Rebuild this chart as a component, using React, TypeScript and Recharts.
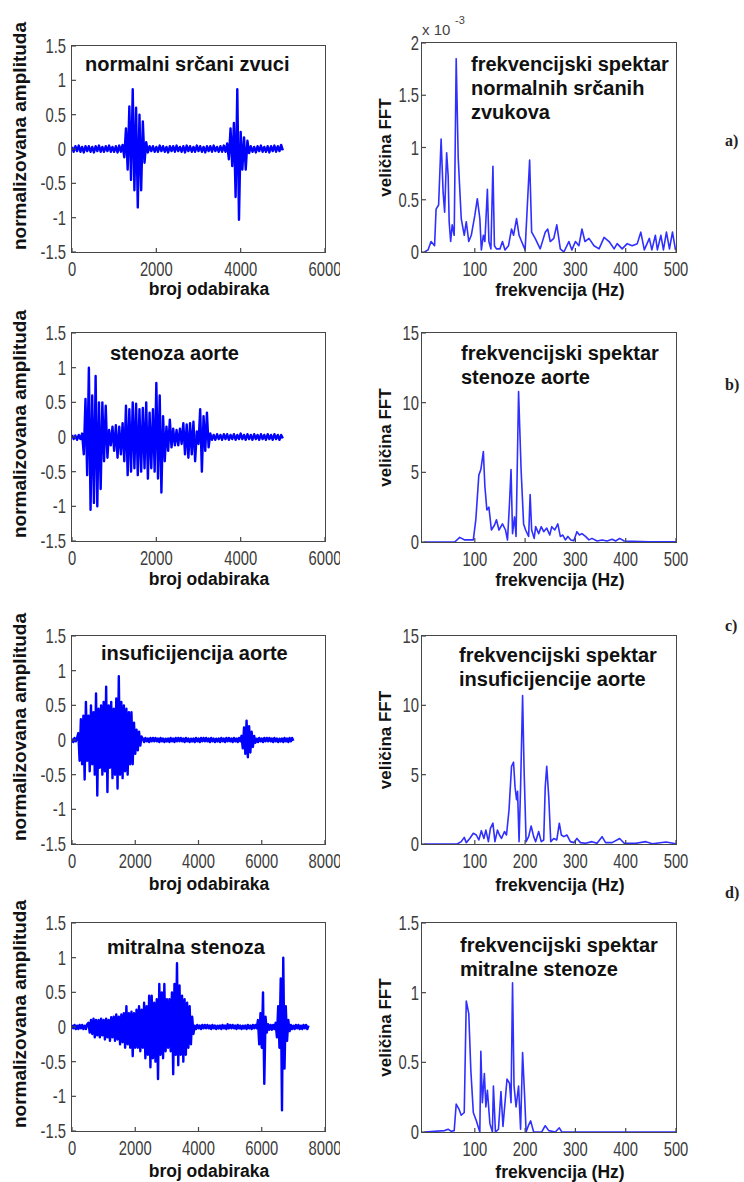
import { Line, LineChart, XAxis, YAxis } from "recharts";

const FONT = "'Liberation Sans', Arial, Helvetica, sans-serif";
const SAMPLE_STEP = 40;

// time signals, one value every SAMPLE_STEP samples
const normalSignal = [
  0.03, -0.04, 0.04, -0.03, 0.05, -0.04, 0.03, -0.05, 0.04, -0.03,
  0.04, -0.04, 0.03, -0.05, 0.04, -0.03, 0.05, -0.04, 0.03, -0.04,
  0.04, -0.03, 0.05, -0.04, 0.03, -0.04, 0.04, -0.05, 0.05, -0.04,
  0.06, -0.12, 0.3, -0.3, 0.62, -0.45, 0.87, -0.6, 0.6, -0.85,
  0.5, -0.6, 0.4, -0.2, 0.1, -0.05, 0.04, -0.03, 0.04, -0.04,
  0.03, -0.04, 0.05, -0.03, 0.04, -0.04, 0.03, -0.05, 0.04, -0.03,
  0.04, -0.04, 0.05, -0.03, 0.03, -0.04, 0.04, -0.05, 0.05, -0.03,
  0.04, -0.04, 0.03, -0.04, 0.05, -0.03, 0.04, -0.04, 0.03, -0.05,
  0.04, -0.03, 0.04, -0.04, 0.05, -0.03, 0.03, -0.04, 0.04, -0.04,
  0.05, -0.04, 0.08, -0.15, 0.3, -0.25, 0.38, -0.7, 0.87, -1.03,
  0.25, -0.3, 0.17, -0.3, 0.12, -0.06, 0.04, -0.04, 0.03, -0.05,
  0.04, -0.03, 0.05, -0.04, 0.03, -0.04, 0.04, -0.05, 0.04, -0.03,
  0.05, -0.04, 0.04, -0.03, 0.06, -0.02,
];

const stenosisSignal = [
  0.03, -0.03, 0.02, -0.04, 0.03, -0.03, 0.05, -0.25, 0.55, -0.55,
  1.0, -1.05, 0.6, -0.95, 0.88, -1.0, 0.5, -0.75, 0.5, -0.35,
  0.45, -0.3, 0.1, -0.12, 0.15, -0.2, 0.17, -0.3, 0.15, -0.25,
  0.2, -0.35, 0.45, -0.55, 0.4, -0.5, 0.5, -0.45, 0.48, -0.55,
  0.4, -0.5, 0.42, -0.45, 0.5, -0.6, 0.35, -0.45, 0.4, -0.5,
  0.78, -0.6, 0.6, -0.8, 0.3, -0.35, 0.15, -0.2, 0.25, -0.15,
  0.12, -0.12, 0.1, -0.12, 0.12, -0.1, 0.2, -0.25, 0.18, -0.3,
  0.2, -0.25, 0.22, -0.35, 0.08, -0.1, 0.4, -0.5, 0.3, -0.2,
  0.35, -0.15, 0.05, -0.04, 0.03, -0.04, 0.04, -0.03, 0.03, -0.04,
  0.04, -0.03, 0.04, -0.04, 0.03, -0.03, 0.04, -0.04, 0.03, -0.03,
  0.05, -0.03, 0.03, -0.04, 0.04, -0.03, 0.03, -0.04, 0.04, -0.03,
  0.03, -0.04, 0.04, -0.03, 0.03, -0.04, 0.04, -0.03, 0.03, -0.04,
  0.04, -0.03, 0.03, -0.04, 0.03, -0.02,
];

const insufficiencySignal = [
  0.02, -0.03, 0.03, -0.02, 0.03,
  0.1, -0.3, 0.3, -0.35, 0.35, -0.57, 0.55, -0.3, 0.35, -0.45,
  0.5, -0.35, 0.4, -0.5, 0.67, -0.8, 0.45, -0.4, 0.5, -0.5,
  0.55, -0.45, 0.77, -0.75, 0.5, -0.4, 0.55, -0.55, 0.45, -0.5,
  0.6, -0.7, 0.92, -0.5, 0.55, -0.55, 0.5, -0.45, 0.45, -0.5,
  0.4, -0.35, 0.4, -0.35, 0.25, -0.2, 0.15, -0.15, 0.12, -0.08,
  0.05,
  0.02, -0.03, 0.03, -0.02, 0.02, -0.03, 0.03, -0.02, 0.03, -0.02,
  0.03, -0.02, 0.02, -0.03, 0.03, -0.02, 0.02, -0.03, 0.02, -0.02,
  0.02, -0.03, 0.03, -0.02, 0.02, -0.03, 0.03, -0.02, 0.03, -0.02,
  0.03, -0.02, 0.02, -0.03, 0.03, -0.02, 0.02, -0.03, 0.02, -0.02,
  0.02, -0.03, 0.03, -0.02, 0.02, -0.03, 0.03, -0.02, 0.03, -0.02,
  0.03, -0.02, 0.02, -0.03, 0.03, -0.02, 0.02, -0.03, 0.02, -0.02,
  0.02, -0.03, 0.03, -0.02, 0.02, -0.03, 0.03, -0.02, 0.03, -0.02,
  0.02, -0.03, 0.03, -0.02, 0.02, -0.03, 0.03, -0.02,
  0.06, -0.12, 0.18, -0.2, 0.28, -0.25, 0.2, -0.18, 0.12, -0.1, 0.06, -0.04,
  0.02, -0.03, 0.03, -0.02, 0.02, -0.03, 0.03, -0.02, 0.03, -0.02,
  0.03, -0.02, 0.02, -0.03, 0.03, -0.02, 0.02, -0.03, 0.02, -0.02,
  0.02, -0.03, 0.03, -0.02, 0.02, -0.03, 0.03, -0.02, 0.03, -0.01,
];

const mitralSignal = [
  0.03, -0.02, 0.03, -0.03, 0.02, -0.03, 0.03, -0.02, 0.03, -0.03, 0.02, -0.03, 0.04,
  0.06, -0.08, 0.1, -0.1, 0.12, -0.15, 0.1, -0.12, 0.1, -0.15,
  0.12, -0.12, 0.1, -0.18, 0.12, -0.15, 0.1, -0.2, 0.14, -0.15,
  0.15, -0.2, 0.18, -0.18, 0.15, -0.25, 0.18, -0.22, 0.2, -0.3,
  0.3, -0.25, 0.2, -0.3, 0.22, -0.42, 0.2, -0.3, 0.25, -0.3,
  0.3, -0.35, 0.25, -0.3, 0.35, -0.45, 0.3, -0.4, 0.45, -0.58,
  0.45, -0.45, 0.35, -0.5, 0.4, -0.75, 0.62, -0.4, 0.5, -0.45,
  0.62, -0.35, 0.4, -0.3, 0.4, -0.35, 0.5, -0.68, 0.62, -0.4,
  0.92, -0.55, 0.6, -0.4, 0.45, -0.5, 0.4, -0.4, 0.35, -0.3,
  0.3, -0.25, 0.15, -0.1,
  0.02, -0.03, 0.03, -0.02, 0.02, -0.03, 0.03, -0.02, 0.03, -0.02,
  0.03, -0.02, 0.02, -0.03, 0.03, -0.02, 0.02, -0.03, 0.02, -0.02,
  0.02, -0.03, 0.03, -0.02, 0.02, -0.03, 0.04, -0.02, 0.03, -0.02,
  0.03, -0.02, 0.02, -0.03, 0.03, -0.02, 0.02, -0.03, 0.02, -0.02,
  0.02, -0.03, 0.03, -0.02, 0.02, -0.03, 0.03, -0.02, 0.03, -0.02,
  0.1, -0.25, 0.2, -0.3, 0.5, -0.82, 0.15, -0.08, 0.04,
  -0.04, 0.03, -0.04, 0.03, -0.03,
  0.06, -0.15, 0.3, -0.3, 0.7, -1.2, 1.0, -0.6, 0.3, -0.2, 0.1, -0.06,
  0.03, -0.03, 0.02, -0.03, 0.03, -0.02, 0.03, -0.03, 0.02, -0.03, 0.03, -0.02, 0.03, -0.03, 0.02,
];

// spectra (Hz, magnitude)
const normalFreq = [
  0, 7, 13, 20, 23, 28, 33, 37, 40, 44, 47, 49, 52, 55, 59, 63, 67, 73, 79, 83,
  88, 93, 100, 105, 110, 113, 117, 120, 125, 128, 132, 136, 139, 143, 150, 155, 160, 167, 173, 177,
  183, 188, 193, 200, 209, 213, 220, 230, 240, 245, 250, 257, 263, 270, 277, 287, 293, 300, 307, 313,
  319, 327, 337, 347, 357, 367, 377, 383, 393, 403, 413, 423, 430, 437, 447, 452, 459, 463, 470, 475,
  481, 487, 493, 499,
];
// x 10^-3
const normalMag = [
  0, 0.02, 0.1, 0.06, 0.41, 0.45, 1.08, 0.57, 0.38, 0.95, 0.73, 0.29, 0.1, 0.26, 0.16, 1.85, 0.9, 0.32, 0.16, 0.29,
  0.1, 0.16, 0.35, 0.51, 0.32, 0.02, 0.16, 0.1, 0.6, 0.1, 0.03, 0.82, 0.06, 0.03, 0.03, 0.1, 0.02, 0.06, 0.22, 0.16,
  0.32, 0.16, 0.1, 0.02, 0.88, 0.19, 0.13, 0.03, 0.19, 0.22, 0.1, 0.13, 0.26, 0.03, 0, 0.1, 0.02, 0.1, 0.06, 0.22,
  0.1, 0.13, 0.06, 0.03, 0.14, 0.1, 0.03, 0.08, 0.03, 0.08, 0.06, 0.08, 0.19, 0.02, 0.13, 0.02, 0.16, 0.02, 0.16, 0.02,
  0.19, 0.03, 0.19, 0.02,
];

const stenosisFreq = [
  0, 60, 70, 80, 90, 97, 102, 108, 112, 117, 120, 124, 128, 133, 139, 143, 148, 155, 161, 165,
  169, 172, 175, 179, 182, 187, 192, 197, 201, 207, 210, 213, 218, 221, 227, 232, 237, 243, 249, 253,
  259, 265, 270, 275, 280, 285, 291, 297, 303, 308, 313, 320, 327, 333, 343, 353, 363, 373, 380, 388,
  397, 413, 447, 500,
];
const stenosisMag = [
  0, 0, 0.33, 0.15, 0.15, 0.15, 1.6, 4.8, 5.2, 6.5, 4.0, 2.3, 2.5, 0.86, 1.2, 1.6, 0.86, 1.3, 0.86, 0.14,
  2.8, 5.2, 0.6, 1.8, 0.4, 10.8, 5.2, 1.3, 0.86, 0.4, 3.4, 0.86, 0.26, 1.1, 0.6, 1.1, 0.74, 1.0, 0.5, 1.1,
  0.86, 1.3, 0.4, 0.5, 0.15, 0.4, 0.15, 0.1, 0.74, 0.5, 0.6, 0.4, 0.15, 0.26, 0.07, 0.15, 0.07, 0.2, 0.07, 0.26,
  0.07, 0.05, 0.02, 0.02,
];

const insufficiencyFreq = [
  0, 65, 73, 79, 83, 90, 97, 103, 108, 113, 118, 122, 127, 131, 136, 140, 145, 149, 153, 159,
  163, 168, 173, 177, 180, 183, 185, 188, 191, 195, 198, 202, 207, 212, 217, 221, 227, 232, 237, 240,
  243, 247, 251, 257, 263, 268, 272, 277, 283, 290, 297, 303, 310, 320, 333, 343, 353, 360, 373, 388,
  397, 420, 440, 453, 480, 500,
];
const insufficiencyMag = [
  0, 0, 0.17, 0.48, 0.1, 0.4, 0.77, 0.65, 0.29, 0.96, 0.4, 1.0, 0.17, 1.13, 1.5, 0.17, 1.0, 0.65, 0.4, 0.9,
  0.65, 2.45, 5.6, 5.9, 4.1, 3.2, 3.8, 0.17, 4.1, 10.7, 5.3, 0.17, 0.53, 1.3, 0.53, 0.17, 0.9, 0.17, 0.29, 4.1,
  5.6, 3.4, 0.17, 0.4, 0.29, 1.5, 0.65, 0.53, 0.65, 0.17, 0.1, 0.4, 0.1, 0.05, 0.17, 0.05, 0.53, 0.1, 0.1, 0.4,
  0.05, 0.05, 0.17, 0.02, 0.14, 0.02,
];

const mitralFreq = [
  0, 40, 47, 53, 59, 63, 69, 73, 79, 83, 88, 92, 97, 103, 110, 112, 115, 119, 122, 125,
  130, 135, 137, 141, 147, 152, 156, 160, 164, 169, 172, 175, 178, 182, 187, 191, 195, 199, 202, 207,
  211, 217, 233, 240, 247, 260, 268, 273, 500,
];
const mitralMag = [
  0, 0.01, 0.02, 0.005, 0.01, 0.2, 0.16, 0.12, 0.14, 0.94, 0.85, 0.45, 0.14, 0.08, 0, 0.58, 0.21, 0.42, 0.18, 0.3,
  0.06, 0, 0.33, 0, 0.02, 0.29, 0.04, 0.21, 0.38, 0.35, 0.21, 1.07, 0.33, 0.18, 0.33, 0.02, 0.57, 0.26, 0, 0.05,
  0.08, 0, 0, 0.045, 0.01, 0, 0.03, 0, 0,
];

const ampTicks = [-1.5, -1, -0.5, 0, 0.5, 1, 1.5];
const sampleTicks6k = [0, 2000, 4000, 6000];
const sampleTicks8k = [0, 2000, 4000, 6000, 8000];
const freqTicks = [100, 200, 300, 400, 500];
const normalFftTicks = [0, 0.5, 1, 1.5, 2];
const valveFftTicks = [0, 5, 10, 15];
const mitralFftTicks = [0, 0.5, 1, 1.5];

const toSignalRows = (values: number[]) => values.map((y, i) => ({ x: i * SAMPLE_STEP, y }));
const toSpectrumRows = (freq: number[], mag: number[]) => freq.map((x, i) => ({ x, y: mag[i] }));

const FRAME = "#474747";
const PAD = 14;
const TICK_LEN = 4;

const bottomTick = (p: any) => (
  <g>
    <line x1={p.x} x2={p.x} y1={p.y} y2={p.y - TICK_LEN} stroke={FRAME} strokeWidth={1.2} />
    <g transform={`translate(${p.x},${p.y + 24}) scale(0.74,1)`}>
      <text textAnchor="middle" fontSize={20} fill="#3c3c3c" fontFamily={FONT}>
        {p.payload.value}
      </text>
    </g>
  </g>
);

const topTick = (p: any) => (
  <line x1={p.x} x2={p.x} y1={p.y} y2={p.y + TICK_LEN} stroke={FRAME} strokeWidth={1.2} />
);

const makeLeftTick = (gap: number) => (p: any) => (
  <g>
    <line x1={p.x} x2={p.x + TICK_LEN} y1={p.y} y2={p.y} stroke={FRAME} strokeWidth={1.2} />
    <g transform={`translate(${p.x - gap},${p.y + 7}) scale(0.74,1)`}>
      <text textAnchor="end" fontSize={20} fill="#3c3c3c" fontFamily={FONT}>
        {p.payload.value}
      </text>
    </g>
  </g>
);

const rightTick = (p: any) => (
  <line x1={p.x} x2={p.x - TICK_LEN} y1={p.y} y2={p.y} stroke={FRAME} strokeWidth={1.2} />
);

type PanelProps = {
  left: number;
  top: number;
  axisW: number;
  plotW: number;
  plotH: number;
  gap: number;
  data: { x: number; y: number }[];
  xDomain: [number, number];
  xTicks: number[];
  yDomain: [number, number];
  yTicks: number[];
  lineWidth: number;
  color: string;
};

function Panel(props: PanelProps) {
  const { left, top, axisW, plotW, plotH, gap, data, xDomain, xTicks, yDomain, yTicks } = props;
  return (
    <div style={{ position: "absolute", left, top: top - PAD, width: axisW + plotW + 15, height: plotH + PAD + 34 }}>
      <LineChart
        width={axisW + plotW + 15}
        height={plotH + PAD + 34}
        data={data}
        margin={{ top: PAD, right: 15, bottom: 0, left: 0 }}
      >
        <XAxis
          xAxisId="b"
          dataKey="x"
          type="number"
          domain={xDomain}
          ticks={xTicks}
          interval={0}
          height={34}
          tickSize={0}
          tickMargin={0}
          axisLine={false}
          tickLine={false}
          tick={bottomTick}
          allowDataOverflow
        />
        <XAxis
          xAxisId="t"
          orientation="top"
          dataKey="x"
          type="number"
          domain={xDomain}
          ticks={xTicks}
          interval={0}
          height={0}
          tickSize={0}
          tickMargin={0}
          axisLine={false}
          tickLine={false}
          tick={topTick}
          allowDataOverflow
        />
        <YAxis
          yAxisId="l"
          type="number"
          domain={yDomain}
          ticks={yTicks}
          interval={0}
          width={axisW}
          tickSize={0}
          tickMargin={0}
          axisLine={false}
          tickLine={false}
          tick={makeLeftTick(gap)}
          allowDataOverflow
        />
        <YAxis
          yAxisId="r"
          orientation="right"
          type="number"
          domain={yDomain}
          ticks={yTicks}
          interval={0}
          width={0}
          tickSize={0}
          tickMargin={0}
          axisLine={false}
          tickLine={false}
          tick={rightTick}
          allowDataOverflow
        />
        <Line
          xAxisId="b"
          yAxisId="l"
          type="linear"
          dataKey="y"
          stroke={props.color}
          strokeWidth={props.lineWidth}
          strokeLinejoin="round"
          dot={false}
          isAnimationActive={false}
        />
      </LineChart>
      <div
        style={{
          position: "absolute",
          left: axisW - 0.8,
          top: PAD - 0.8,
          width: plotW + 1.6,
          height: plotH + 1.6,
          boxSizing: "border-box",
          border: `1.6px solid ${FRAME}`,
          pointerEvents: "none",
        }}
      />
    </div>
  );
}

const rows = [
  {
    signal: normalSignal, sampleMax: 6000, sampleTicks: sampleTicks6k,
    freq: normalFreq, mag: normalMag, fftMax: 2, fftTicks: normalFftTicks,
    leftTop: 46, leftH: 206, rightTop: 43, rightH: 209,
  },
  {
    signal: stenosisSignal, sampleMax: 6000, sampleTicks: sampleTicks6k,
    freq: stenosisFreq, mag: stenosisMag, fftMax: 15, fftTicks: valveFftTicks,
    leftTop: 333, leftH: 208, rightTop: 333, rightH: 209,
  },
  {
    signal: insufficiencySignal, sampleMax: 8000, sampleTicks: sampleTicks8k,
    freq: insufficiencyFreq, mag: insufficiencyMag, fftMax: 15, fftTicks: valveFftTicks,
    leftTop: 636, leftH: 208, rightTop: 636, rightH: 208,
  },
  {
    signal: mitralSignal, sampleMax: 8000, sampleTicks: sampleTicks8k,
    freq: mitralFreq, mag: mitralMag, fftMax: 1.5, fftTicks: mitralFftTicks,
    leftTop: 923, leftH: 208, rightTop: 923, rightH: 209,
  },
];

const leftTitles = [
  { text: "normalni srčani zvuci", x: 85, y: 71 },
  { text: "stenoza aorte", x: 110, y: 360 },
  { text: "insuficijencija aorte", x: 101, y: 660 },
  { text: "mitralna stenoza", x: 107, y: 954 },
];

const rightTitles = [
  { lines: ["frekvencijski spektar", "normalnih srčanih", "zvukova"], x: 471, y: 71 },
  { lines: ["frekvencijski spektar", "stenoze aorte"], x: 461, y: 360 },
  { lines: ["frekvencijski spektar", "insuficijencije aorte"], x: 459, y: 662 },
  { lines: ["frekvencijski spektar", "mitralne stenoze"], x: 460, y: 952 },
];

const xLabelBaselines = [295, 585, 890, 1177];
const panelLetters = [
  { text: "a)", y: 146 },
  { text: "b)", y: 390 },
  { text: "c)", y: 631 },
  { text: "d)", y: 898 },
];

export default function App() {
  return (
    <div
      style={{
        position: "absolute",
        left: 0,
        top: 0,
        width: 744,
        height: 1182,
        background: "#fff",
        overflow: "hidden",
      }}
    >
      {rows.map((r, i) => (
        <div key={i}>
          <Panel
            left={0}
            top={r.leftTop}
            axisW={72}
            plotW={253}
            plotH={r.leftH}
            gap={6}
            data={toSignalRows(r.signal)}
            xDomain={[0, r.sampleMax]}
            xTicks={r.sampleTicks}
            yDomain={[-1.5, 1.5]}
            yTicks={ampTicks}
            lineWidth={2.4}
            color="#0000ff"
          />
          <Panel
            left={372}
            top={r.rightTop}
            axisW={50}
            plotW={254}
            plotH={r.rightH}
            gap={3}
            data={toSpectrumRows(r.freq, r.mag)}
            xDomain={[-5, 500]}
            xTicks={freqTicks}
            yDomain={[0, r.fftMax]}
            yTicks={r.fftTicks}
            lineWidth={1.6}
            color="#2f2fff"
          />
        </div>
      ))}

      <svg
        width={744}
        height={1182}
        style={{ position: "absolute", left: 0, top: 0, pointerEvents: "none" }}
        fontFamily={FONT}
      >
        {leftTitles.map((t) => (
          <text key={t.text} x={t.x} y={t.y} fontSize={20} fontWeight="bold" fill="#111">
            {t.text}
          </text>
        ))}
        {rightTitles.map((t, i) => (
          <text key={i} x={t.x} y={t.y} fontSize={20} fontWeight="bold" fill="#111">
            {t.lines.map((line, j) => (
              <tspan key={j} x={t.x} dy={j === 0 ? 0 : 24}>
                {line}
              </tspan>
            ))}
          </text>
        ))}
        {rows.map((r, i) => {
          const lc = r.leftTop + r.leftH / 2 - 13;
          const rc = r.rightTop + r.rightH / 2;
          return (
            <g key={i}>
              <text
                x={26}
                y={lc}
                transform={`rotate(-90 26 ${lc})`}
                textAnchor="middle"
                fontSize={19}
                fontWeight="bold"
                fill="#111"
              >
                normalizovana amplituda
              </text>
              <text
                x={391}
                y={rc}
                transform={`rotate(-90 391 ${rc})`}
                textAnchor="middle"
                fontSize={17}
                fontWeight="bold"
                fill="#111"
              >
                veličina FFT
              </text>
              <text x={209} y={xLabelBaselines[i]} textAnchor="middle" fontSize={17.5} fontWeight="bold" fill="#111">
                broj odabiraka
              </text>
              <text x={560} y={xLabelBaselines[i] + 1} textAnchor="middle" fontSize={17.5} fontWeight="bold" fill="#111">
                frekvencija (Hz)
              </text>
            </g>
          );
        })}
        <text x={422} y={35} fontSize={15} fill="#444">
          x 10
        </text>
        <text x={455} y={24} fontSize={11} fill="#444">
          -3
        </text>
        {panelLetters.map((l) => (
          <text
            key={l.text}
            x={725}
            y={l.y}
            fontSize={16}
            fontWeight="bold"
            fill="#222"
            fontFamily="'Liberation Serif', 'Times New Roman', serif"
          >
            {l.text}
          </text>
        ))}
      </svg>
    </div>
  );
}
